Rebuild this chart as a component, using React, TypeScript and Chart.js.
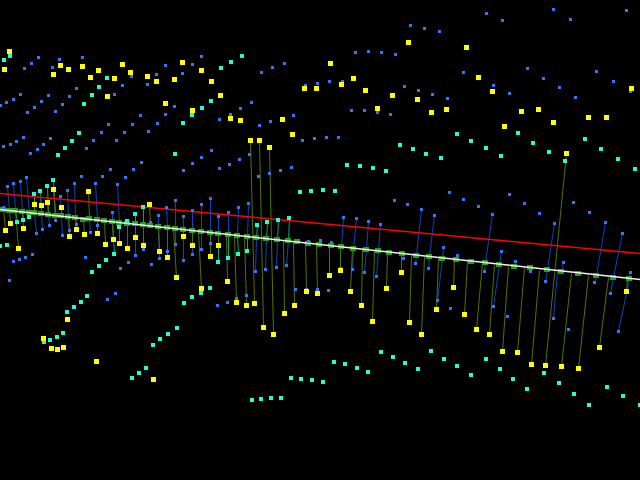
import React, { useEffect, useRef } from "react";
import { Chart, registerables } from "chart.js";

Chart.register(...registerables);

type Pair = [number, number];
type Stem = [number, number, number, number];

const yellowPoints: Pair[] = [[9,51],[4,69],[60,65],[53,74],[68,69],[82,66],[90,77],[98,70],[114,78],[122,64],[130,72],[107,96],[147,76],[156,81],[174,79],[182,62],[201,70],[211,81],[165,103],[192,110],
[220,95],[230,118],[240,120],[282,119],[292,134],[250,140],[259,140],[269,147],[304,88],[316,88],[330,63],[341,84],[353,78],[365,90],[377,108],[392,95],[408,42],[417,99],
[466,47],[478,77],[492,91],[431,112],[446,109],[521,111],[538,109],[504,126],[553,122],[588,117],[606,117],[631,88],[566,153],
[53,189],[34,204],[41,205],[47,202],[61,207],[88,191],[149,204],[10,223],[5,230],[23,228],[76,229],[69,236],[84,234],[97,233],[18,248],[105,244],[113,239],[119,243],[127,248],[135,237],[143,245],[159,251],[167,257],[183,236],[192,245],[210,256],[176,277],[201,288],[67,319],
[218,245],[227,281],[236,302],[246,305],[254,303],[284,313],[294,305],[306,291],[317,293],[329,275],[340,270],[350,291],[361,305],[386,288],[401,272],[372,321],
[453,287],[436,309],[464,314],[626,291],
[43,338],[51,348],[57,349],[63,347],[96,361],[153,379],
[263,327],[273,334],[409,322],[421,334],
[476,329],[489,334],[502,351],[517,352],[531,364],[545,365],[561,366],[578,368],[599,347]];

const cyanPoints: Pair[] = [[10,56],[4,60],[107,78],[99,87],[92,95],[84,104],[211,101],[202,108],[192,115],[183,123],[79,133],[72,141],[65,148],[58,155],[175,154],
[221,68],[231,62],[242,56],[400,145],[413,149],[426,154],
[457,134],[471,141],[486,148],[501,156],[441,158],[518,133],[533,143],[549,152],[585,139],[601,149],[618,159],
[53,180],[47,186],[40,191],[34,194],[29,217],[23,220],[17,222],[0,246],[7,245],[114,254],[143,207],[135,214],[127,221],[119,227],[106,260],[99,266],[92,272],[87,296],[81,302],[74,307],[67,312],[210,288],[201,293],[192,297],[184,303],
[347,165],[360,166],[373,168],[386,171],[300,192],[311,191],[323,190],[335,191],[257,225],[267,222],[278,220],[289,218],[218,262],[228,258],[238,254],[247,251],
[565,161],[635,169],
[44,342],[50,340],[57,337],[63,333],[132,378],[139,373],[146,368],[153,345],[160,339],[168,334],[177,328],
[252,400],[261,399],[271,398],[281,398],[291,378],[301,379],[312,380],[323,382],[334,362],[345,364],[357,368],[368,372],[381,352],[393,357],[405,363],[418,369],
[431,351],[444,359],[457,366],[471,375],[486,359],[500,369],[513,379],[527,389],[544,373],[559,383],[574,394],[589,405],[607,387],[623,396],[640,405]];

const bluePoints: Pair[] = [[38,57],[59,59],[82,57],[31,63],[24,68],[52,67],[76,88],[20,94],[13,99],[6,102],[0,105],[48,95],[41,101],[34,107],[27,112],[69,96],[62,104],[55,111],[114,94],[122,85],[131,76],[147,84],[156,74],[165,65],[182,73],[192,64],[201,56],[174,106],[165,114],[140,115],[157,123],[132,124],[108,124],[101,132],[124,132],[148,131],[93,140],[116,140],[86,148],[50,138],[43,144],[37,149],[30,153],[23,137],[16,141],[10,144],[3,146],[211,150],[201,157],
[410,25],[424,28],[355,52],[368,51],[381,52],[395,54],[284,63],[272,67],[261,72],[305,85],[317,83],[329,81],[342,81],[404,86],[418,90],[251,102],[240,108],[230,114],[219,119],[293,115],[270,121],[259,125],[351,110],[364,110],[377,112],[390,114],[302,140],[314,138],[326,137],[338,137],[249,154],[239,159],
[486,13],[502,20],[553,9],[570,19],[626,10],[439,31],[463,72],[527,68],[543,78],[559,87],[575,97],[596,71],[613,81],[630,91],[493,85],[509,93],[432,94],[447,98],
[7,186],[13,183],[20,181],[26,177],[60,196],[67,190],[74,183],[81,176],[95,183],[102,176],[110,169],[117,184],[125,177],[133,169],[141,162],[183,170],[192,163],[3,207],[112,212],[158,215],[166,207],[175,200],[183,216],[192,210],[201,204],[210,198],
[36,233],[42,229],[49,225],[55,220],[62,235],[69,230],[76,224],[90,232],[97,225],[143,249],[135,255],[159,258],[167,251],[175,244],[183,260],[192,254],[201,249],[210,243],[85,257],[128,262],[120,268],[151,264],[32,254],[25,257],[19,259],[13,261],[9,280],[115,293],[107,299],[150,222],
[219,168],[229,164],[258,176],[269,173],[280,170],[291,167],[394,200],[407,204],[218,216],[228,212],[238,207],[248,203],[343,217],[356,218],[368,221],[380,224],[421,209],[255,271],[265,269],[276,267],[286,265],[352,269],[364,272],[376,276],[415,263],[403,258],[217,305],[227,302],[236,298],[246,295],[295,289],[306,289],[317,289],[328,290],[308,241],[320,240],[331,242],[340,268],
[449,192],[463,199],[478,206],[509,194],[524,203],[539,213],[573,202],[589,212],[434,215],[492,214],[554,223],[605,222],[622,233],[443,247],[457,255],[501,251],[515,261],[563,262],[630,272],[428,268],[484,271],[530,271],[545,281],[594,282],[610,293],[493,306],[507,316],[553,318],[437,300],[450,308],[568,329],[618,331]];

const greenPoints: Pair[] = [[3,209],[9,210],[15,210],[22,211],[29,212],[34,212],[41,213],[48,214],[55,215],[61,215],[68,216],[75,217],[83,219],[89,218],[97,219],[104,220],[112,221],[119,222],[127,223],[135,223],[143,224],[150,225],[158,226],[167,227],[175,228],[183,229],[192,230],[201,231],[210,232],
[218,233],[228,234],[237,235],[247,236],[256,237],[266,238],[277,239],[288,240],[297,241],[308,243],[319,244],[331,245],[341,246],[353,248],[366,249],[378,250],[389,252],[402,253],[416,255],
[429,256],[442,258],[456,259],[471,261],[485,262],[499,264],[514,266],[530,267],[547,269],[561,271],[578,273],[596,275],[613,277],[629,278]];

const redLine: Pair[] = [[0,193.5],[640,253.5]];
const whiteLine: Pair[] = [[0,209.5],[640,279.5]];

const yellowStems: Stem[] = [[53,189,55,215],[34,204,34,212],[41,205,41,213],[47,202,48,214],[61,207,61,215],[88,191,89,218],[149,204,150,225],[5,230,3,209],[10,223,9,210],[18,248,15,210],[23,228,22,211],[69,236,68,216],[76,229,75,217],[84,234,83,219],[97,233,97,219],[105,244,104,220],[113,239,112,221],[119,243,119,222],[127,248,127,223],[135,237,135,223],[143,245,143,224],[159,251,158,226],[167,257,167,227],[176,277,173,228],[183,236,183,229],[192,245,192,230],[201,288,198,231],[210,256,210,232],
[218,245,218,233],[227,281,226,234],[236,302,234,235],[246,305,244,236],[250,140,254,303],[259,140,263,327],[269,147,273,334],[284,313,283,240],[294,305,293,241],[306,291,305,243],[317,293,316,244],[329,275,329,245],[340,270,340,246],[350,291,352,248],[361,305,362,249],[372,321,374,250],[386,288,387,252],[401,272,401,253],[409,322,411,255],[421,334,424,256],
[436,309,438,258],[453,287,454,259],[464,314,467,261],[476,329,482,262],[489,334,494,264],[502,351,508,266],[517,352,524,267],[531,364,539,270],[566,153,545,365],[561,366,571,273],[578,368,588,275],[599,347,608,277],[626,291,627,278]];

const cyanStems: Stem[] = [[53,180,55,215],[47,186,48,214],[40,191,41,213],[34,194,34,212],[114,254,112,221],[143,207,143,224],[135,214,135,223],[127,221,127,223],[119,227,119,222],[29,217,29,212],[23,220,22,211],[17,222,15,210],[257,225,256,237],[267,222,266,238],[278,220,277,239],[289,218,288,240],[218,262,218,233],[228,258,228,234],[238,254,237,235],[247,251,247,236]];

const blueStems: Stem[] = [[7,186,9,210],[13,183,15,210],[20,181,22,211],[26,177,29,212],[60,196,61,215],[67,190,68,216],[74,183,75,217],[95,183,97,219],[117,184,119,222],[112,212,112,221],[158,215,158,226],[166,207,167,227],[175,200,175,228],[183,216,183,229],[192,210,192,230],[201,204,201,231],[210,198,210,232],[36,233,34,212],[42,229,41,213],[49,225,48,214],[55,220,55,215],[62,235,61,215],[69,230,68,216],[76,224,75,217],[90,232,89,218],[97,225,97,219],[143,249,143,224],[135,255,135,223],[159,258,158,226],[167,251,167,227],[175,244,175,228],[183,260,183,229],[192,254,192,230],[201,249,201,231],[210,243,210,232],
[218,216,218,233],[228,212,228,234],[238,207,237,235],[248,203,247,236],[343,217,341,246],[356,218,353,248],[368,221,366,249],[380,224,378,250],[421,209,416,255],[255,271,256,237],[265,269,266,238],[276,267,277,239],[286,265,288,240],[352,269,353,248],[364,272,366,249],[376,276,378,250],[415,263,416,255],[403,258,402,253],
[434,215,429,256],[492,214,485,262],[554,223,547,269],[605,222,596,275],[622,233,613,277],[443,247,442,258],[457,255,456,259],[501,251,499,264],[515,261,514,266],[563,262,561,271],[630,272,629,278],[428,268,429,256],[484,271,485,262],[530,271,530,267],[545,281,547,269],[594,282,596,275],[610,293,613,277],[493,306,499,264],[553,318,557,271],[437,300,442,258],[618,331,629,278]];

function sprite(w: number, h: number, color: string) {
  const c = document.createElement("canvas");
  c.width = w;
  c.height = h;
  const g = c.getContext("2d")!;
  g.fillStyle = color;
  g.fillRect(0, 0, w, h);
  return c;
}

const toPoints = (p: Pair[], dx: number, dy: number) => p.map(([x, y]) => ({ x: x + dx, y: y + dy }));

const stemPath = (stems: Stem[]) =>
  stems.flatMap(([a, b, c, d]) => [
    { x: a + 0.5, y: b + 0.5 },
    { x: c + 0.5, y: d + 0.5 },
    { x: NaN, y: NaN },
  ]);

const linePath = (p: Pair[]) => p.map(([x, y]) => ({ x, y }));

export default function App() {
  const ref = useRef<HTMLCanvasElement>(null);
  useEffect(() => {
    document.body.style.margin = "0";
    document.body.style.background = "#000";
    const lineDs = (data: any[], color: string, width = 1) => ({
      data,
      showLine: true,
      borderColor: color,
      borderWidth: width,
      pointRadius: 0,
      tension: 0,
      spanGaps: false,
    });
    const pointDs = (data: any[], img: HTMLCanvasElement) => ({
      data,
      showLine: false,
      pointStyle: img,
      pointRadius: 3,
      pointBorderWidth: 0,
    });
    const chart = new Chart(ref.current!, {
      type: "scatter",
      data: {
        datasets: [
          pointDs(toPoints(yellowPoints, 0.5, 0.5), sprite(5, 5, "#ffff00")),
          pointDs(toPoints(cyanPoints, 0, 0), sprite(4, 4, "#22ffcc")),
          pointDs(toPoints(bluePoints, 0.5, 0.5), sprite(3, 3, "#3377ff")),
          lineDs(linePath(whiteLine), "#f0f0f0", 1.3),
          pointDs(toPoints(greenPoints, 0, 0.5), sprite(6, 5, "#22a010")),
          lineDs(linePath(redLine), "#ff0000", 1.4),
          lineDs(stemPath(yellowStems), "#4f7200"),
          lineDs(stemPath(cyanStems), "#00a878"),
          lineDs(stemPath(blueStems), "#0c44c0"),
        ] as any,
      },
      options: {
        responsive: false,
        animation: false,
        layout: { padding: 0, autoPadding: false },
        plugins: { legend: { display: false }, tooltip: { enabled: false } },
        scales: {
          x: { type: "linear", min: 0, max: 640, display: false },
          y: { type: "linear", min: 0, max: 480, reverse: true, display: false },
        },
      },
    });
    return () => chart.destroy();
  }, []);
  return (
    <div style={{ position: "fixed", left: 0, top: 0, width: 640, height: 480, background: "#000" }}>
      <canvas ref={ref} width={640} height={480} style={{ display: "block", background: "#000" }} />
    </div>
  );
}
